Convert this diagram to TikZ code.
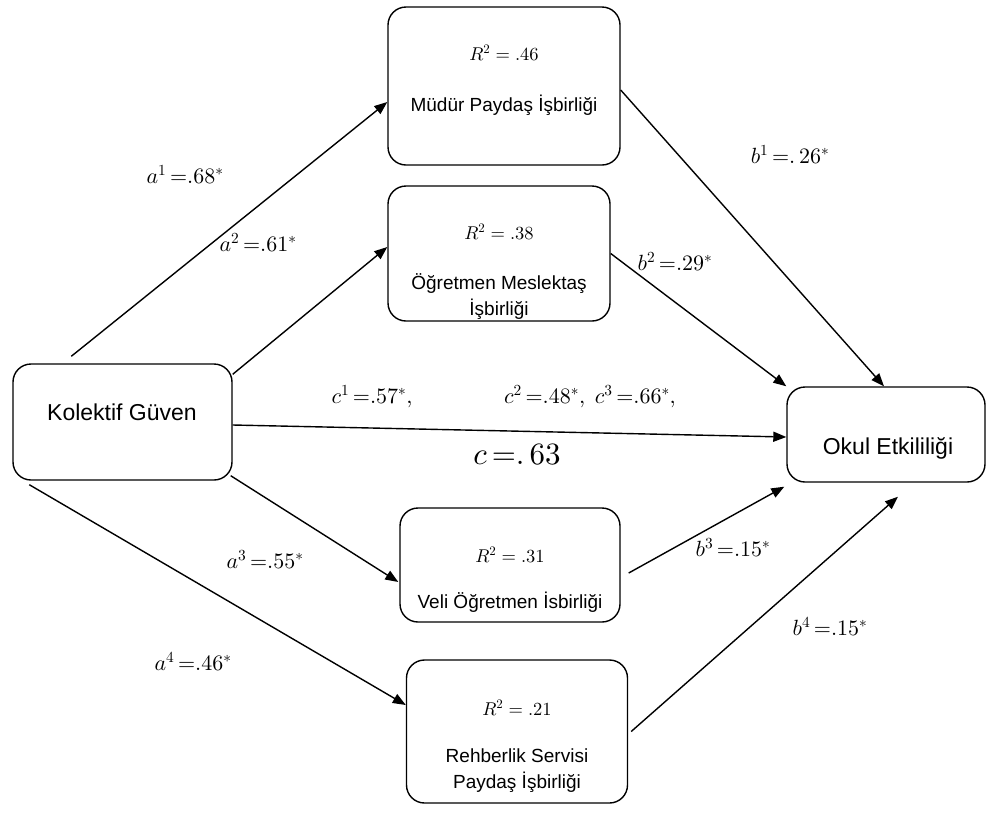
\documentclass[tikz,border=0pt]{standalone}
\usepackage{fontspec}
\setmainfont{Liberation Sans}
\DeclareFontShape{OML}{cmm}{m}{it}{<->cmmi10}{}
\DeclareFontShape{OMS}{cmsy}{m}{n}{<->cmsy10}{}
\DeclareFontShape{OT1}{cmr}{m}{n}{<->cmr10}{}
\usetikzlibrary{arrows.meta}
\begin{document}
\begin{tikzpicture}[x=1pt,y=-1pt,
 box/.style={draw, line width=1.4pt, rounded corners=18pt, inner sep=0pt},
 arr/.style={line width=1.4pt, -{Triangle[length=13pt,width=10pt]}},
 lbl/.style={font=\fontsize{22}{26}\selectfont, inner sep=0pt},
 big/.style={font=\fontsize{23}{27}\selectfont, inner sep=0pt},
 boxtxt/.style={font=\fontsize{19}{26}\selectfont, inner sep=0pt, align=center},
 rtxt/.style={font=\fontsize{18.5}{22}\selectfont, inner sep=0pt}]
\useasboundingbox (0,0) rectangle (986,812);
\fill[white] (0,0) rectangle (986,812);

% boxes
\node[box, minimum width=232pt, minimum height=158pt] (mud) at (504,86) {};
\node[box, minimum width=222pt, minimum height=135pt] (ogr) at (499,253.5) {};
\node[box, minimum width=219pt, minimum height=116pt] (kg) at (122.5,422) {};
\node[box, minimum width=198pt, minimum height=95pt] (okul) at (886,434.5) {};
\node[box, minimum width=220pt, minimum height=114pt] (veli) at (510,565) {};
\node[box, minimum width=221pt, minimum height=143pt] (reh) at (517,731.5) {};

% box texts
\node[rtxt] (mudR) at (504,53) {$R^2=.46$};
\node[boxtxt] (mudT) at (504,105) {Müdür Paydaş İşbirliği};
\node[rtxt] (ogrR) at (499,232) {$R^2=.38$};
\node[boxtxt] (ogrT) at (499,296.5) {Öğretmen Meslektaş\\İşbirliği};
\node[big] (kgT) at (122,412) {Kolektif Güven};
\node[big] (okulT) at (888,448) {Okul Etkililiği};
\node[rtxt] (veliR) at (510,555) {$R^2=.31$};
\node[boxtxt] (veliT) at (510,602) {Veli Öğretmen İsbirliği};
\node[rtxt] (rehR) at (517,708) {$R^2=.21$};
\node[boxtxt] (rehT) at (517,770.5) {Rehberlik Servisi\\Paydaş İşbirliği};

% connectors
\draw[arr] ([xshift=59pt,yshift=7pt]kg.north west) -- ([yshift=-16pt]mud.west);
\draw[arr] ([yshift=-11pt]kg.north east) -- ([yshift=6.5pt]ogr.west);
\draw[arr] ([yshift=-3pt]kg.east) -- ([yshift=-2.5pt]okul.west);
\draw[arr] ([xshift=-2pt,yshift=5pt]kg.south east) -- ([xshift=-1pt,yshift=-17pt]veli.west);
\draw[arr] ([xshift=17pt,yshift=-4pt]kg.south west) -- ([yshift=26.5pt]reh.west);
\draw[arr] ([yshift=-4pt]mud.east) -- ([xshift=-2pt]okul.north);
\draw[arr] (ogr.east) -- (okul.north west);
\draw[arr] ([xshift=8pt,yshift=-8pt]veli.east) -- ([xshift=-2pt,yshift=-4pt]okul.south west);
\draw[arr] ([xshift=3pt]reh.east) -- ([xshift=12pt,yshift=-14pt]okul.south);

% labels
\node[lbl] (la1) at (185,175) {$a^{1}\,{=}.68^{*}$};
\node[lbl] (la2) at (258,243) {$a^{2}\,{=}.61^{*}$};
\node[lbl] (lb1) at (790,155) {$b^{1}\,{=}.\,26^{*}$};
\node[lbl] (lb2) at (675,262) {$b^{2}\,{=}.29^{*}$};
\node[lbl] (lc1) at (372,397) {$c^{1}\,{=}.57^{*},$};
\node[lbl] (lc23) at (590,397) {$c^{2}\,{=}.48^{*},\ c^{3}\,{=}.66^{*},$};
\node[inner sep=0pt, font=\fontsize{31}{35}\selectfont] (lc) at (517,455) {$c\,{=}.\,63$};
\node[lbl] (la3) at (265,560) {$a^{3}\,{=}.55^{*}$};
\node[lbl] (lb3) at (733,548) {$b^{3}\,{=}.15^{*}$};
\node[lbl] (la4) at (193,662) {$a^{4}\,{=}.46^{*}$};
\node[lbl] (lb4) at (830,627) {$b^{4}\,{=}.15^{*}$};
\end{tikzpicture}
\end{document}
